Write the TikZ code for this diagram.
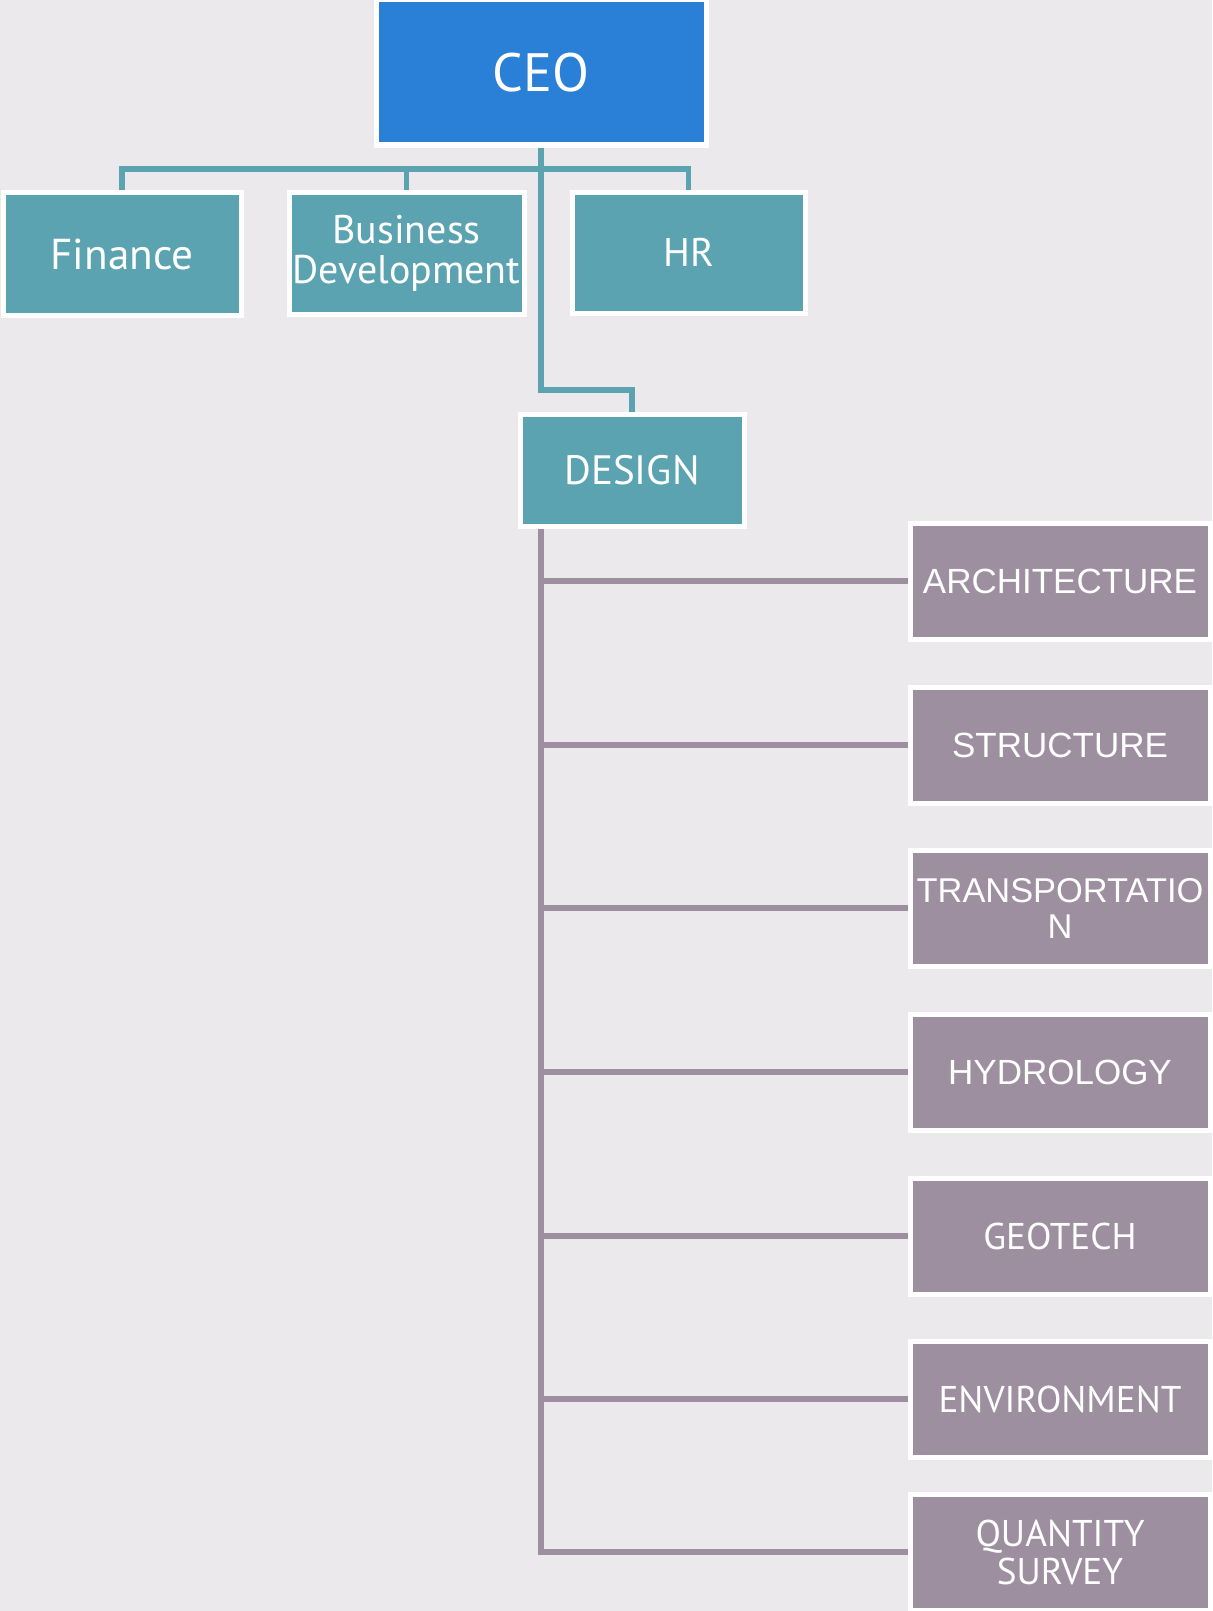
\documentclass[tikz,border=0pt]{standalone}
\usepackage{fontspec}
\newfontfamily\hum{PT Sans}
\newfontfamily\ari{Liberation Sans}
\definecolor{bg}{HTML}{EBE9EC}
\definecolor{ceoblue}{HTML}{2A7FD6}
\definecolor{teal}{HTML}{5BA3B0}
\definecolor{mauve}{HTML}{9E8FA0}
\tikzset{
  box/.style={draw=white, line width=2.5pt, inner sep=0pt, text=white, align=center},
  tbox/.style={box, fill=teal},
  pbox/.style={box, fill=mauve, minimum width=150pt, minimum height=58pt},
  tline/.style={draw=teal, line width=2.6pt},
  pline/.style={draw=mauve, line width=2.6pt},
  humtxt/.style={font=\hum\fontsize{20}{20}\selectfont},
  hums/.style={font=\hum\fontsize{18.6}{19}\selectfont},
  aritxt/.style={font=\ari\fontsize{17.5}{18}\selectfont},
}
\begin{document}
\begin{tikzpicture}[x=0.5pt,y=-0.5pt]
\useasboundingbox (0,0) rectangle (1212,1611);
\fill[bg] (0,0) rectangle (1212,1611);

\coordinate (bar) at (541,169);
\coordinate (elbow) at (541,390);

% boxes
\node[box, fill=ceoblue, minimum width=165pt, minimum height=72.5pt, font=\hum\fontsize{27}{27}\selectfont] (ceo) at (541,72.5) {CEO};
\node[tbox, minimum width=119pt, minimum height=61.5pt, font=\hum\fontsize{21.6}{21}\selectfont] (fin) at (122,254) {Finance};
\node[tbox, minimum width=117.5pt, minimum height=61pt, humtxt] (bd) at (406.5,253) {Business\\Development};
\node[tbox, minimum width=116.5pt, minimum height=60.5pt, humtxt] (hr) at (688.5,252.5) {HR};
\node[tbox, minimum width=112pt, minimum height=56pt, font=\hum\fontsize{20.5}{20.5}\selectfont] (design) at (632,470) {DESIGN};

\node[pbox, aritxt] (arch) at (1060,581) {ARCHITECTURE};
\node[pbox, aritxt] (str) at (1060,745) {STRUCTURE};
\node[pbox, font=\ari\fontsize{17.2}{18}\selectfont] (trans) at (1060,908) {TRANSPORTATIO\\N};
\node[pbox, aritxt] (hyd) at (1060,1072) {HYDROLOGY};
\node[pbox, hums] (geo) at (1060,1236) {GEOTECH};
\node[pbox, hums] (env) at (1060,1399) {ENVIRONMENT};
\node[pbox, hums] (qs) at (1060,1552) {QUANTITY\\SURVEY};

% teal connectors
\draw[tline] (fin.north) -- (fin.north |- bar) -- (hr.north |- bar) -- (hr.north);
\draw[tline] (bd.north) -- (bd.north |- bar);
\draw[tline] (ceo.south) -- (ceo.south |- elbow) -| (design.north);

% mauve connectors
\draw[pline] (design.south -| ceo.south) |- (qs.west);
\foreach \n in {arch,str,trans,hyd,geo,env}
  \draw[pline] (\n.west -| ceo.south) -- (\n.west);
\end{tikzpicture}
\end{document}
